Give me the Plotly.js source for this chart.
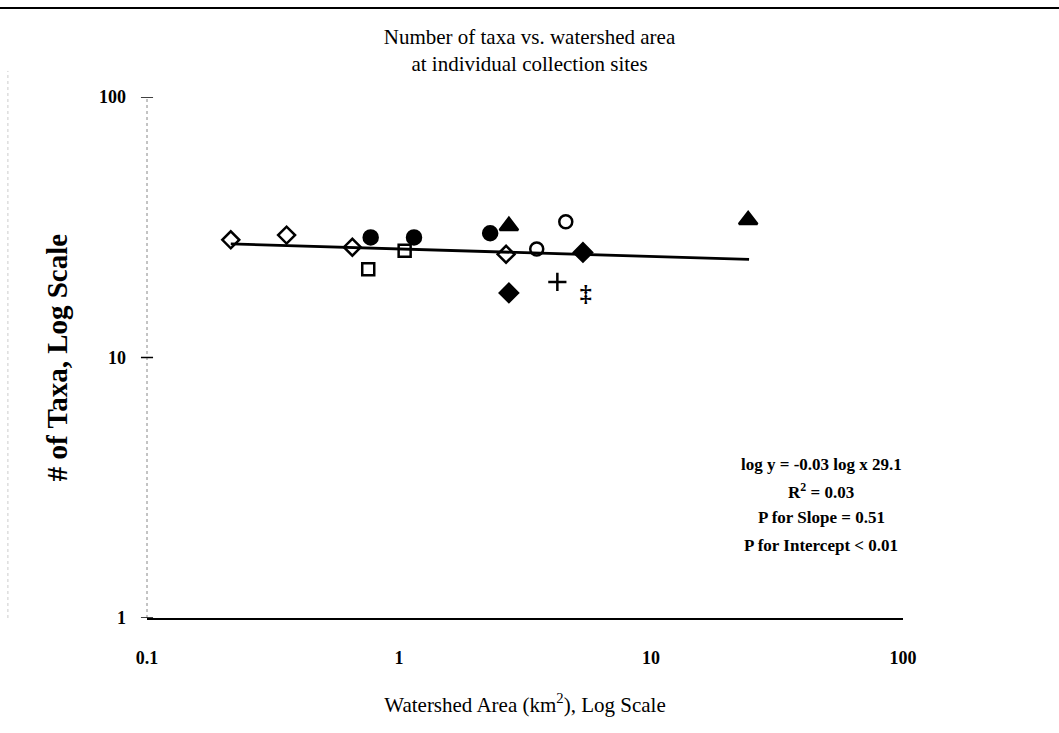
<!DOCTYPE html>
<html>
<head>
<meta charset="utf-8">
<script src="https://cdn.plot.ly/plotly-3.0.1.min.js"></script>
<style>html,body{margin:0;padding:0;background:#fff;}#chart{width:1059px;height:733px;}</style>
</head>
<body>
<div id="chart"></div>
<script>
// Data (watershed area km², number of taxa)
const openDiamondX = [0.215, 0.358, 0.653, 2.66];
const openDiamondY = [28.3, 29.5, 26.5, 24.9];
const filledCircleX = [0.772, 1.147, 2.30];
const filledCircleY = [28.9, 28.9, 30.0];
const openSquareX = [0.755, 1.053];
const openSquareY = [21.8, 25.7];
const filledTriangleX = [2.73, 24.3];
const filledTriangleY = [32.0, 33.7];
const filledDiamondX = [2.73, 5.37];
const filledDiamondY = [17.7, 25.3];
const openCircleX = [3.52, 4.59];
const openCircleY = [26.1, 33.2];
const plusX = [4.25];
const plusY = [19.5];
const doubleCrossX = [5.51];
const doubleCrossY = [17.4];
// Fitted regression line end points
const fitX = [0.215, 24.5];
const fitY = [27.3, 23.8];

const xTickVals = [0.1, 1, 10, 100];
const xTickText = ['0.1', '1', '10', '100'];
const yTickVals = [1, 10, 100];
const yTickText = ['1', '10', '100'];

const statsLines = ['log y = -0.03 log x 29.1', 'R<sup>2</sup> = 0.03', 'P for Slope = 0.51', 'P for Intercept < 0.01'];
const statsPos = [0.294, 0.244, 0.192, 0.140];

const serif = 'Liberation Serif, Times New Roman, serif';

function pts(x, y, symbol, size) {
  return {
    type: 'scatter', mode: 'markers', x: x, y: y, showlegend: false, hoverinfo: 'skip',
    marker: {symbol: symbol, size: size, color: '#000', line: {color: '#000', width: 2.5}}
  };
}

const traces = [
  {type: 'scatter', mode: 'lines', x: fitX, y: fitY, showlegend: false, hoverinfo: 'skip',
   line: {color: '#000', width: 2.8}},
  pts(openDiamondX, openDiamondY, 'diamond-open', 13),
  pts(filledCircleX, filledCircleY, 'circle', 14),
  pts(openSquareX, openSquareY, 'square-open', 12),
  pts(filledTriangleX, filledTriangleY, 'triangle-up', 16),
  pts(filledDiamondX, filledDiamondY, 'diamond', 14),
  pts(openCircleX, openCircleY, 'circle-open', 13),
  pts(plusX, plusY, 'cross-thin-open', 13),
  {type: 'scatter', mode: 'text', x: doubleCrossX, y: doubleCrossY, text: ['<b>‡</b>'], showlegend: false,
   hoverinfo: 'skip', textposition: 'middle center',
   textfont: {family: serif, size: 24, color: '#000'}}
];

const yTickShapes = yTickVals.map(v => ({
  type: 'line', xref: 'paper', yref: 'y', x0: -0.008, x1: 0.008, y0: v, y1: v,
  line: {color: '#000', width: 1.5}
}));

const layout = {
  width: 1059, height: 733,
  paper_bgcolor: '#fff', plot_bgcolor: '#fff',
  margin: {l: 147, r: 156, t: 97, b: 115},
  title: {
    text: 'Number of taxa vs. watershed area<br>at individual collection sites',
    font: {family: serif, size: 21, color: '#000'},
    x: 0.5, xanchor: 'center', y: 0.94, yanchor: 'top'
  },
  xaxis: {
    type: 'log', range: [-1, 2], tickvals: xTickVals, ticktext: xTickText,
    showgrid: false, zeroline: false, showline: true, linecolor: '#000', linewidth: 2,
    ticks: '', ticklabelstandoff: 22, tickfont: {family: serif, size: 18, color: '#000', weight: 'bold'},
    title: {text: 'Watershed Area (km<sup>2</sup>), Log Scale', font: {family: serif, size: 21, color: '#000'}, standoff: 31}
  },
  yaxis: {
    type: 'log', range: [0, 2], tickvals: yTickVals, ticktext: yTickText,
    showgrid: false, zeroline: false, showline: false,
    ticks: '', ticklabelstandoff: 20, tickfont: {family: serif, size: 18, color: '#000', weight: 'bold'},
    title: {text: '<b># of Taxa, Log Scale</b>', font: {family: serif, size: 29, color: '#000'}, standoff: 22}
  },
  shapes: [
    {type: 'line', xref: 'paper', yref: 'paper', x0: 0, x1: 0, y0: 0, y1: 1,
     line: {color: '#888', width: 1, dash: 'dot'}},
    {type: 'line', xref: 'paper', yref: 'paper', x0: -0.195, x1: 1.21, y0: 1.171, y1: 1.171,
     line: {color: '#000', width: 2}},
    {type: 'line', xref: 'paper', yref: 'paper', x0: -0.184, x1: -0.184, y0: 0.0, y1: 1.05,
     line: {color: '#ccc', width: 1, dash: 'dot'}}
  ].concat(yTickShapes),
  annotations: statsLines.map((s, i) => ({
    xref: 'paper', yref: 'paper', x: 0.892, y: statsPos[i], xanchor: 'center', yanchor: 'middle',
    align: 'center', showarrow: false,
    text: '<b>' + s + '</b>',
    font: {family: serif, size: 17, color: '#000'}
  }))
};

Plotly.newPlot('chart', traces, layout, {displayModeBar: false, staticPlot: true});
</script>
</body>
</html>
